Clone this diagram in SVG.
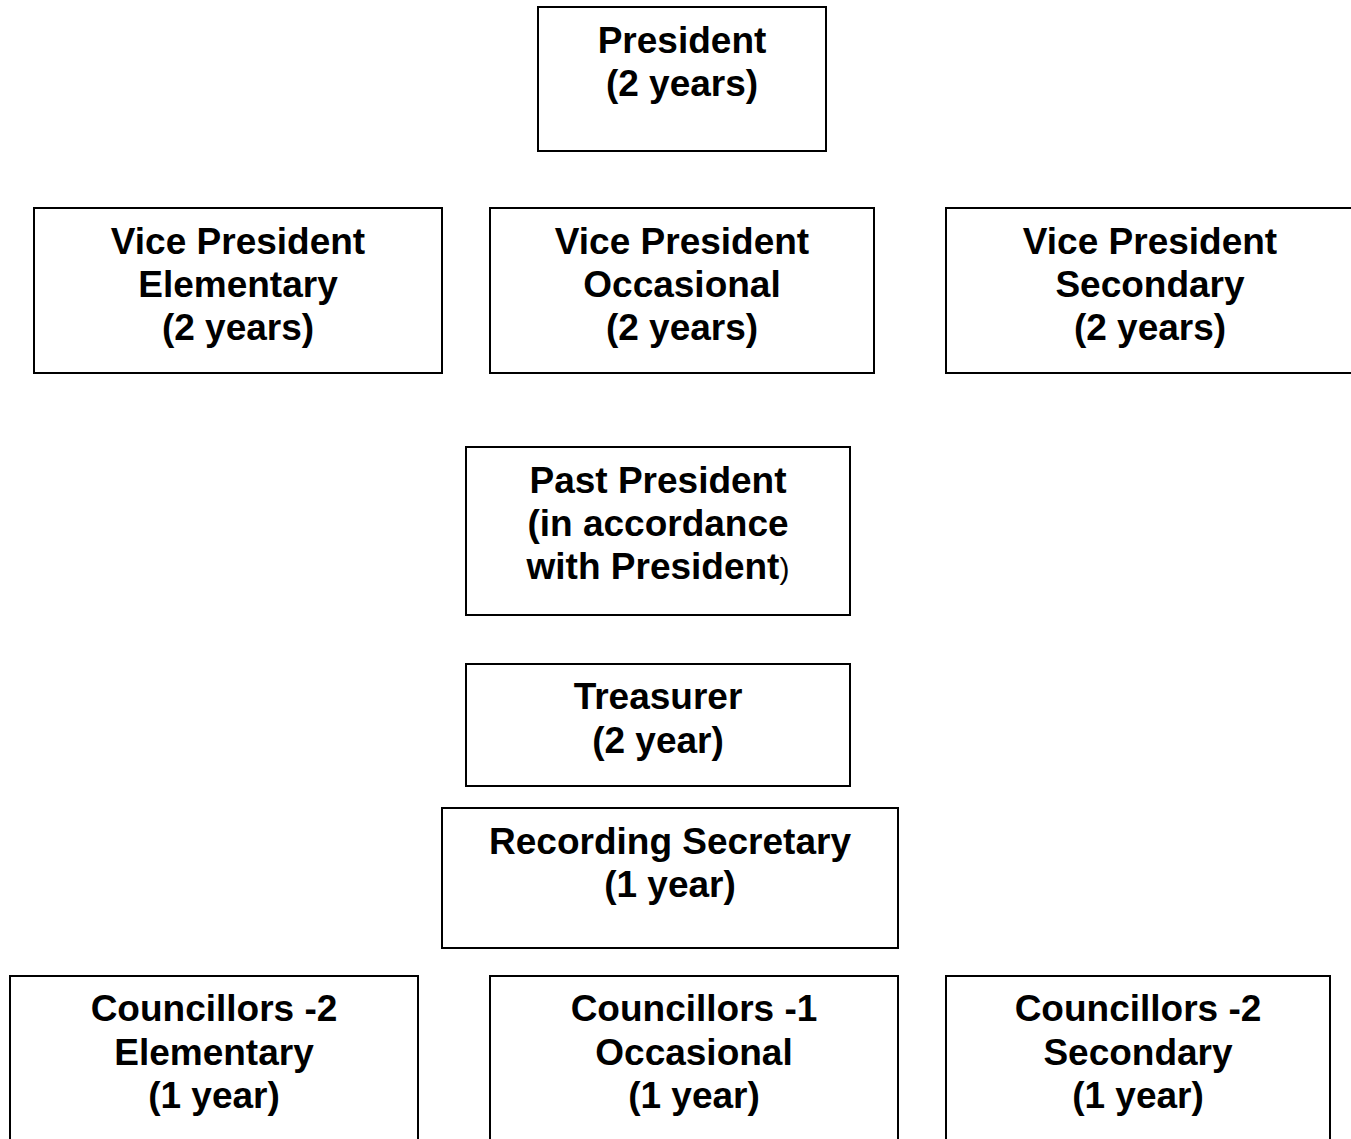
<svg xmlns="http://www.w3.org/2000/svg" width="1351" height="1139" viewBox="0 0 1351 1139">
<style>
rect{fill:#fff;stroke:#000;stroke-width:2}
text{font-family:"Liberation Sans",Arial,sans-serif;font-weight:bold;font-size:37px;text-anchor:middle;fill:#000}
.n{font-weight:normal;font-size:30px}
</style>
<rect x="0" y="0" width="1351" height="1139" style="stroke:none"/>
<g id="connectors"></g>
<g id="president"><rect x="538" y="7" width="288" height="144"/><text x="682" y="53">President</text><text x="682" y="96">(2 years)</text></g>
<g id="vp-elementary"><rect x="34" y="208" width="408" height="165"/><text x="238" y="254">Vice President</text><text x="238" y="297">Elementary</text><text x="238" y="340">(2 years)</text></g>
<g id="vp-occasional"><rect x="490" y="208" width="384" height="165"/><text x="682" y="254">Vice President</text><text x="682" y="297">Occasional</text><text x="682" y="340">(2 years)</text></g>
<g id="vp-secondary"><rect x="946" y="208" width="420" height="165"/><text x="1150" y="254">Vice President</text><text x="1150" y="297">Secondary</text><text x="1150" y="340">(2 years)</text></g>
<g id="past-president"><rect x="466" y="447" width="384" height="168"/><text x="658" y="493">Past President</text><text x="658" y="536">(in accordance</text><text x="658" y="579">with President<tspan class="n">)</tspan></text></g>
<g id="treasurer"><rect x="466" y="664" width="384" height="122"/><text x="658" y="709">Treasurer</text><text x="658" y="753">(2 year)</text></g>
<g id="recording-secretary"><rect x="442" y="808" width="456" height="140"/><text x="670" y="854">Recording Secretary</text><text x="670" y="897">(1 year)</text></g>
<g id="councillors-elementary"><rect x="10" y="976" width="408" height="200"/><text x="214" y="1021">Councillors -2</text><text x="214" y="1065">Elementary</text><text x="214" y="1108">(1 year)</text></g>
<g id="councillors-occasional"><rect x="490" y="976" width="408" height="200"/><text x="694" y="1021">Councillors -1</text><text x="694" y="1065">Occasional</text><text x="694" y="1108">(1 year)</text></g>
<g id="councillors-secondary"><rect x="946" y="976" width="384" height="200"/><text x="1138" y="1021">Councillors -2</text><text x="1138" y="1065">Secondary</text><text x="1138" y="1108">(1 year)</text></g>
</svg>
